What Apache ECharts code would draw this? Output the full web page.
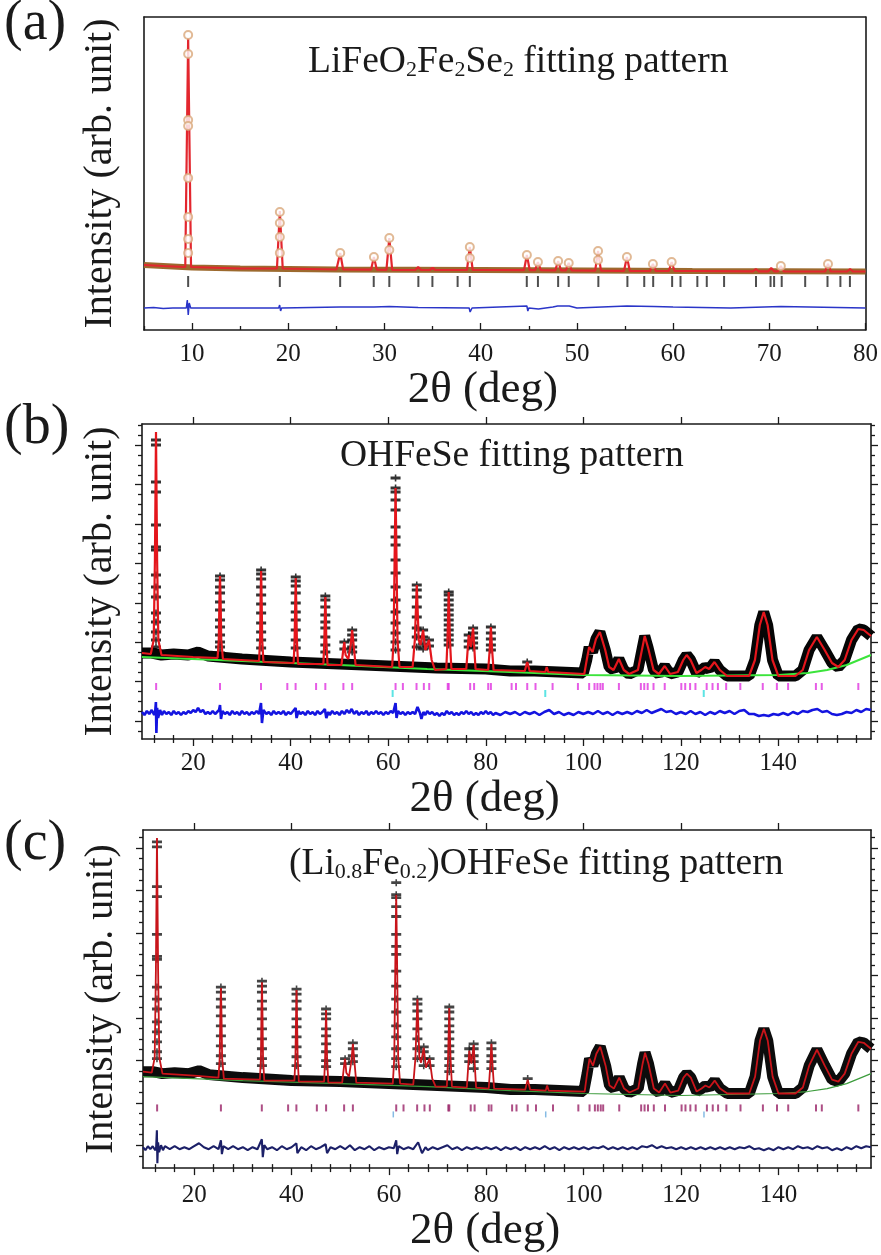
<!DOCTYPE html>
<html>
<head>
<meta charset="utf-8">
<script src="https://cdn.jsdelivr.net/npm/echarts@6/dist/echarts.min.js"></script>
<style>
  html, body { margin: 0; padding: 0; background: #fff; }
  #chart { width: 881px; height: 1255px; }
</style>
</head>
<body>
<div id="chart"></div>
<script>
var FONT = 'Liberation Serif';

// ---------- (a) LiFeO2Fe2Se2 ----------
var bgA = [[5,65],[7,64],[10,62.5],[15,61.5],[25,60.5],[40,60],[62,59],[80,58.5]];
// [2theta, top, base]
var peaksA = [
  [9.59,292,63],[19.12,119,61.5],[25.4,77,60.5],[28.9,73,60.3],[30.5,92,60.2],
  [33.5,63,60],[35.0,62,60],[38.87,83,60],[44.8,75,59.8],[45.95,68,59.8],
  [48.05,69,59.6],[49.15,67,59.6],[52.2,79,59.4],[55.2,73,59.2],[57.9,66,59],
  [59.85,68,59],[68.6,61,58.7],[70.2,62,58.7],[71.2,64,58.6],[76.1,66,58.5],[78.4,61,58.5]
];
var obsA = [
  [9.59,295],[9.59,276],[9.59,210],[9.59,204],[9.59,152],[9.59,113],[9.59,91],[9.59,77],
  [19.12,118],[19.12,107],[19.12,93],[19.12,77],
  [25.4,77],[28.9,73],[30.5,92],[30.5,80],[38.87,83],[38.87,72],[44.8,75],[45.95,68],
  [48.05,69],[49.15,67],[52.2,79],[52.2,70],[55.2,73],[57.9,66],[59.85,68],[71.2,64],[76.1,66]
];
var hklA = [9.59,19.12,25.39,28.88,30.5,33.52,34.98,37.6,38.87,44.79,45.95,48.05,49.15,52.23,
  55.25,57.0,57.93,59.9,60.77,62.52,63.5,65.3,68.62,70.13,70.5,71.29,73.73,76.05,77.39,78.38];
var diffA = [[5,22],[6,22.5],[7,21.5],[8,22],[9.4,22],[9.5,30],[9.6,15],[9.7,27],[9.85,22],
  [19.0,22],[19.1,25],[19.2,19],[19.3,22],[25.4,23],[28.9,23],[30.5,23.5],[33.5,22.5],
  [38.8,22],[38.9,18],[39.0,20],[39.1,22],[44.8,24],[44.9,19],[45.0,22],[46,21],[47.5,23],
  [48,24],[49.2,24],[50,22],[55.2,24],[58,23.5],[60,23],[66,22],[71.2,23.5],[80,22]];

// ---------- (b) OHFeSe ----------
var calcB = [
  [9.5,86],[11.3,85],[11.9,99],[12.15,179],[12.37,307],[12.6,179],[12.85,99],[13.5,84],[20,82],
  [25.0,81],[25.25,99],[25.38,139],[25.5,163],[25.62,139],[25.75,99],[26.1,80],
  [33.5,78],[33.72,99],[33.82,139],[33.93,168],[34.04,139],[34.15,99],[34.4,77],
  [40.6,76],[40.8,99],[40.92,134],[41.03,161],[41.14,134],[41.26,99],[41.5,75],
  [46.7,75],[46.9,99],[47.0,124],[47.1,142],[47.2,124],[47.3,99],[47.55,74],
  [50.4,74],[50.8,90],[51.0,97],[51.25,84],[51.8,80],[52.3,94],[52.6,109],[52.9,94],[53.3,74],
  [60.8,72],[61.1,99],[61.3,179],[61.5,251],[61.7,179],[61.9,99],[62.3,72],
  [65.0,72],[65.45,99],[65.85,154],[66.25,99],[66.6,94],[67.15,109],[67.6,89],[68.35,99],[68.9,79],[69.6,69],
  [71.9,70],[72.15,99],[72.4,147],[72.65,99],[72.95,70],
  [76.0,70],[76.5,104],[76.95,92],[77.4,111],[77.9,70],
  [80.5,69],[80.8,89],[81.05,112],[81.3,89],[81.6,69],
  [88.0,68],[88.5,77],[89.0,68],[92.2,67],[92.5,72],[92.8,67],
  [100.2,65],[100.7,79],[101.2,92],[101.9,87],[102.6,100],[103.4,107],[104.5,89],[105.3,72],
  [106.2,69],[107.3,80],[108.3,69],[109.4,65],[111.2,69],[112.1,91],[112.6,103],[113.3,91],[114.4,69],
  [115.5,65],[116.7,73],[117.8,65],[119.4,67],[120.5,79],[121.2,84],[122.0,79],[123.2,66],
  [124.2,69],[125.0,72],[125.8,70],[126.9,77],[128.0,69],[129.5,63],[134.0,63],
  [135.2,79],[136.2,114],[137.0,127],[137.8,114],[138.8,79],[140.0,63],[143.5,63],
  [145.0,69],[146.3,89],[147.9,102],[149.5,89],[151.0,76],[152.3,72],[153.6,79],[155.0,99],
  [156.4,110],[157.5,109],[159.0,103]
];
var obsLowB = [[9.5,86],[11.5,86],[13.5,84],[16,85],[19,84],[21,87],[23,83],[30,80],[40,77],[50,75],
  [60,73],[70,71],[80,70],[85,68],[90,68],[95,67],[100,66]];
var obsMarksB = [
  [12.37,299],[12.37,294],[12.37,257],[12.37,247],[12.37,214],[12.37,192],[12.37,189],[12.37,164],
  [12.37,152],[12.37,142],[12.37,126],[12.37,117],[12.37,107],[12.37,99],[12.37,92],
  [25.5,163],[25.5,159],[25.5,152],[25.5,146],[25.5,137],[25.5,129],[25.5,119],[25.5,112],[25.5,104],[25.5,97],[25.5,92],[25.5,86],
  [33.93,169],[33.93,165],[33.93,160],[33.93,152],[33.93,144],[33.93,135],[33.93,126],[33.93,116],[33.93,107],[33.93,99],[33.93,91],
  [41.03,162],[41.03,158],[41.03,153],[41.03,146],[41.03,136],[41.03,127],[41.03,119],[41.03,109],[41.03,99],[41.03,91],
  [47.1,143],[47.1,139],[47.1,132],[47.1,124],[47.1,117],[47.1,111],[47.1,102],[47.1,94],[47.1,87],
  [51.0,97],[51.0,90],[52.6,109],[52.6,104],[52.6,99],[52.6,92],[52.6,87],
  [61.5,261],[61.5,251],[61.5,247],[61.5,239],[61.5,229],[61.5,212],[61.5,202],[61.5,194],[61.5,179],
  [61.5,166],[61.5,152],[61.5,139],[61.5,127],[61.5,116],[61.5,106],[61.5,97],[61.5,89],
  [65.85,154],[65.85,149],[65.85,142],[65.85,132],[65.85,122],[65.85,111],[65.85,102],[65.85,92],
  [67.15,109],[67.15,102],[67.15,95],[67.15,90],[68.35,99],[68.35,93],
  [72.4,147],[72.4,144],[72.4,139],[72.4,134],[72.4,129],[72.4,124],[72.4,119],[72.4,114],[72.4,109],[72.4,104],[72.4,99],[72.4,94],
  [76.5,104],[76.5,98],[76.5,92],[77.4,111],[77.4,106],[77.4,101],[77.4,96],[77.4,91],
  [81.05,112],[81.05,106],[81.05,100],[81.05,94],[81.05,89],[88.5,77]
];
var bgB = [[9.5,82],[30,78],[50,74],[68,70],[85,67],[100,64],[120,63],[140,64],[146,66],[150,69],[154,74],[159,84]];
var hklB = [12.4,25.5,33.9,39.3,41.0,45.2,47.1,50.8,52.6,61.5,63.0,65.8,67.3,68.4,72.2,72.4,76.8,77.6,
  80.5,81.05,85.3,86.2,88.5,90.2,93.7,98.9,101.2,102.3,102.9,103.5,104.0,107.3,111.8,112.5,113.2,
  114.4,116.7,120.1,120.9,121.9,123.0,125.3,126.5,127.6,129.3,132.2,136.8,139.7,142.0,147.7,148.9,156.4];
var hkl2B = [60.9,92.2,124.7];
var diffB = [
  [9.5,27],[10,24],[10.5,28],[11,25],[11.5,29],[12,24],[12.2,27],[12.35,37],[12.45,6],[12.6,31],[12.8,21],
  [13.2,29],[13.6,24],[14,28],[14.5,25],[15,27],[15.5,24],[16,28],[16.5,25],[17,27],[17.5,24],[18,27],
  [18.5,25],[19,28],[19.5,26],[20,29],[20.5,27],[21,31],[21.5,27],[22,29],[22.5,25],[23,27],[23.5,25],
  [24,28],[24.5,25],[25.3,29],[25.5,34],[25.7,20],[26,28],[26.5,25],[27,27],[27.5,24],[28,28],[28.5,25],
  [29,27],[29.5,24],[30,28],[30.5,25],[31,27],[31.5,24],[32,27],[32.5,25],[33,28],[33.5,25],[33.9,36],
  [34.1,16],[34.4,29],[35,25],[35.5,27],[36,24],[36.5,28],[37,25],[37.5,27],[38,25],[38.5,28],[39,24],
  [39.5,27],[40,25],[40.5,28],[41,31],[41.2,21],[41.6,28],[42,25],[42.5,27],[43,24],[43.5,28],[44,25],
  [44.5,27],[45,24],[45.5,28],[46,25],[46.5,27],[47,30],[47.3,21],[47.7,27],[48,24],[48.5,28],[49,25],
  [49.5,27],[50,24],[50.5,28],[51,25],[51.5,29],[52,26],[52.5,30],[53,25],[53.5,28],[54,24],[54.5,27],
  [55,25],[55.5,28],[56,24],[56.5,27],[57,25],[57.5,28],[58,25],[58.5,27],[59,24],[59.5,27],[60,25],
  [60.5,28],[61,26],[61.5,36],[61.7,21],[62,28],[62.5,25],[63,27],[63.5,24],[64,27],[64.5,25],[65,27],
  [65.5,25],[66,32],[66.5,26],[66.8,20],[67.2,27],[67.6,24],[68,28],[68.5,25],[69,27],[69.5,24],[70,26],
  [70.5,23],[71,26],[71.5,24],[72,28],[72.5,25],[73,27],[73.5,24],[74,26],[74.5,24],[75,27],[75.5,25],
  [76,28],[76.5,25],[77,27],[77.5,24],[78,26],[78.5,24],[79,27],[79.5,25],[80,28],[80.5,25],[81,27],
  [81.5,24],[82,26],[83,24],[84,27],[85,25],[86,27],[87,24],[88,27],[89,25],[90,27],[91,24],[92,27],
  [93,29],[94,25],[95,27],[96,24],[97,26],[98,24],[99,27],[100,25],[101,27],[102,25],[103,28],[104,25],
  [105,27],[106,24],[107,27],[108,25],[109,27],[110,25],[111,28],[112,26],[113,29],[114,26],[115,28],
  [116,30],[117,27],[118,28],[119,25],[120,27],[121,25],[122,28],[123,25],[124,27],[125,24],[126,27],
  [127,25],[128,28],[129,26],[130,28],[131,25],[132,28],[133,29],[134,25],[135,25],[136,23],[137,24],
  [138,23],[139,25],[140,24],[141,26],[142,24],[143,27],[144,25],[145,28],[146,27],[147,29],[148,30],
  [149,27],[150,28],[151,25],[152,24],[153,25],[154,27],[155,26],[156,29],[157,27],[158,30],[159,29]];

// ---------- (c) (Li0.8Fe0.2)OHFeSe ----------
var calcC = [
  [9.5,97],[11.3,96],[11.9,111],[12.15,200],[12.37,332],[12.6,200],[12.85,111],[13.5,95],[20,93],
  [25.0,91],[25.25,111],[25.38,155],[25.5,181],[25.62,155],[25.75,111],[26.1,90],
  [33.5,89],[33.72,111],[33.82,155],[33.93,187],[34.04,155],[34.15,111],[34.4,88],
  [40.6,88],[40.8,111],[40.92,150],[41.03,179],[41.14,150],[41.26,111],[41.5,87],
  [46.7,87],[46.9,111],[47.0,138],[47.1,159],[47.2,138],[47.3,111],[47.55,86],
  [50.4,86],[50.8,103],[51.0,110],[51.25,96],[51.8,92],[52.3,108],[52.6,125],[52.9,108],[53.3,86],
  [60.8,85],[61.1,111],[61.3,200],[61.5,275],[61.7,200],[61.9,111],[62.3,85],
  [65.0,84],[65.45,111],[65.85,170],[66.25,111],[66.6,106],[67.15,121],[67.6,101],[68.35,110],[68.9,90],[69.6,82],
  [71.9,82],[72.15,111],[72.4,161],[72.65,111],[72.95,82],
  [76.0,81],[76.5,118],[76.95,105],[77.4,124],[77.9,81],
  [80.5,80],[80.8,102],[81.05,125],[81.3,102],[81.6,80],
  [88.0,79],[88.5,89],[89.0,79],[92.2,78],[92.5,83],[92.8,78],
  [100.2,77],[100.7,95],[101.2,110],[101.9,103],[102.6,115],[103.4,122],[104.5,103],[105.3,83],
  [106.2,80],[107.3,91],[108.3,80],[109.4,76],[111.2,80],[112.1,105],[112.6,116],[113.3,105],[114.4,80],
  [115.5,76],[116.7,85],[117.8,76],[119.4,78],[120.5,91],[121.2,95],[122.0,91],[123.2,77],
  [124.2,80],[125.0,83],[125.8,81],[126.9,88],[128.0,80],[129.5,75],[134.0,75],
  [135.2,92],[136.2,128],[137.0,140],[137.8,128],[138.8,92],[140.0,75],[143.5,75],
  [145.0,81],[146.3,103],[147.9,119],[149.5,103],[151.0,89],[152.3,87],[153.6,95],[155.0,115],
  [156.4,127],[157.5,126],[159.0,120]
];
var obsLowC = [[9.5,97],[11.5,97],[13.5,95],[16,96],[19,95],[21,98],[23,94],[30,91],[40,88],[50,87],
  [60,85],[70,83],[80,81],[85,79],[90,79],[95,78],[100,77]];
var obsMarksC = [
  [12.37,328],[12.37,323],[12.37,283],[12.37,273],[12.37,235],[12.37,213],[12.37,210],[12.37,182],
  [12.37,170],[12.37,160],[12.37,147],[12.37,137],[12.37,127],[12.37,117],[12.37,110],
  [25.5,182],[25.5,177],[25.5,170],[25.5,162],[25.5,153],[25.5,143],[25.5,133],[25.5,123],[25.5,113],[25.5,105],
  [33.93,188],[33.93,183],[33.93,177],[33.93,168],[33.93,160],[33.93,150],[33.93,140],[33.93,130],[33.93,120],[33.93,110],[33.93,103],
  [41.03,180],[41.03,175],[41.03,168],[41.03,160],[41.03,150],[41.03,142],[41.03,132],[41.03,122],[41.03,112],[41.03,103],
  [47.1,160],[47.1,155],[47.1,150],[47.1,140],[47.1,133],[47.1,125],[47.1,117],[47.1,108],[47.1,102],
  [51.0,110],[51.0,105],[52.6,126],[52.6,120],[52.6,113],[52.6,107],
  [61.5,287],[61.5,275],[61.5,272],[61.5,263],[61.5,253],[61.5,235],[61.5,223],[61.5,215],[61.5,198],
  [61.5,183],[61.5,170],[61.5,157],[61.5,143],[61.5,132],[61.5,120],[61.5,110],[61.5,102],
  [65.85,170],[65.85,165],[65.85,158],[65.85,150],[65.85,140],[65.85,130],[65.85,120],[65.85,110],
  [67.15,122],[67.15,117],[67.15,110],[67.15,103],[68.35,110],[68.35,103],
  [72.4,162],[72.4,157],[72.4,150],[72.4,143],[72.4,137],[72.4,130],[72.4,123],[72.4,117],[72.4,110],[72.4,103],[72.4,97],
  [76.5,120],[76.5,113],[76.5,107],[77.4,125],[77.4,120],[77.4,113],[77.4,107],[77.4,100],
  [81.05,126],[81.05,120],[81.05,113],[81.05,107],[81.05,100],[88.5,90]
];
var bgC = [[9.5,92],[30,88],[50,85],[68,82],[85,78],[100,75],[120,73],[140,75],[146,77],[150,80],[154,85],[159,95]];
var hklC = hklB;          // same OHFeSe reflections
var hkl2C = hkl2B;
var diffC = [
  [9.5,21],[10,18],[10.5,22],[11,19],[11.5,22],[12,18],[12.2,21],[12.35,38],[12.45,5],[12.6,26],[12.8,16],
  [13.2,23],[13.6,18],[14,22],[15,19],[16,22],[17,19],[18,21],[19,19],[20,22],[21,25],[22,21],[23,19],
  [24,22],[25,19],[25.5,28],[25.7,14],[26,22],[27,19],[28,22],[29,19],[30,21],[31,18],[32,21],[33,19],
  [33.9,29],[34.1,11],[34.4,23],[35,19],[36,21],[37,18],[38,22],[39,19],[40,21],[41,25],[41.2,15],[42,21],
  [43,18],[44,22],[45,19],[46,21],[47,24],[47.3,15],[48,21],[49,19],[50,22],[51,19],[52,23],[53,18],
  [54,21],[55,19],[56,22],[57,18],[58,21],[59,19],[60,21],[61,20],[61.5,28],[61.7,14],[62,22],[63,19],
  [64,21],[65,19],[66,26],[66.8,15],[67.5,21],[68,18],[69,21],[70,19],[71,21],[72,23],[73,19],[74,21],
  [75,18],[76,21],[77,19],[78,21],[79,19],[80,21],[81,19],[82,21],[83,18],[84,21],[85,19],[86,21],
  [87,18],[88,21],[89,19],[90,21],[91,19],[92,22],[93,19],[94,21],[95,18],[96,21],[97,19],[98,21],
  [99,19],[100,21],[101,19],[102,21],[103,20],[104,22],[105,19],[106,21],[107,19],[108,21],[109,19],
  [110,21],[111,19],[112,22],[113,21],[114,23],[115,20],[116,22],[117,20],[118,21],[119,19],[120,21],
  [121,19],[122,21],[123,19],[124,21],[125,19],[126,21],[127,19],[128,21],[129,19],[130,21],[131,19],
  [132,21],[133,20],[134,22],[135,19],[136,20],[137,18],[138,20],[139,18],[140,21],[141,19],[142,21],
  [143,19],[144,22],[145,20],[146,21],[147,19],[148,22],[149,20],[150,21],[151,18],[152,20],[153,18],
  [154,21],[155,19],[156,22],[157,20],[158,22],[159,21]];

// ---------- helpers ----------
function ticks(start, step, max) {
  var out = [];
  for (var v = start; v <= max + 1e-6; v += step) out.push(+v.toFixed(3));
  return out;
}
function without(list, skip) {
  return list.filter(function (v) {
    return !skip.some(function (s) { return Math.abs(s - v) < 1e-3; });
  });
}
function peakProfile(bg, peaks, hw) {
  var pts = bg.slice();
  peaks.forEach(function (p) {
    pts.push([p[0] - hw, p[2]], [p[0], p[1]], [p[0] + hw, p[2]]);
  });
  return pts.sort(function (a, b) { return a[0] - b[0]; });
}
function at(list, y) { return list.map(function (x) { return [x, y]; }); }
function from(list, x0) { return list.filter(function (p) { return p[0] >= x0; }); }

var AXC = '#1a1a1a';
var option = {
  animation: false,
  backgroundColor: '#ffffff',
  textStyle: { fontFamily: FONT, color: AXC },
  title: [], grid: [], xAxis: [], yAxis: [], series: []
};

// serif text pieces (rich text keeps the family on axis texts)
var RICH = {
  t: { fontFamily: FONT, fontSize: 25, color: AXC },
  xn: { fontFamily: FONT, fontSize: 45, color: AXC },
  yn: { fontFamily: FONT, fontSize: 40, color: AXC }
};

function addPanel(p) {
  var g = option.grid.length;
  option.grid.push({ left: p.left, top: p.top, width: p.width, height: p.height });
  var xi = option.xAxis.length, yi = option.yAxis.length;
  var line = { show: true, onZero: false, lineStyle: { color: AXC, width: 1.6 } };
  var tl = { color: AXC, width: 1.3 };
  function xa(pos, showLine, vals, len, extra) {
    var a = {
      gridIndex: g, type: 'value', position: pos, min: p.xMin, max: p.xMax,
      axisLine: showLine ? line : { show: false }, splitLine: { show: false },
      axisTick: vals ? { show: true, inside: p.inside, length: len, customValues: vals, lineStyle: tl } : { show: false },
      axisLabel: { show: false }
    };
    for (var k in extra) a[k] = extra[k];
    option.xAxis.push(a);
  }
  function ya(pos, showLine, vals, len, extra) {
    var a = {
      gridIndex: g, type: 'value', position: pos, min: 0, max: p.yMax,
      axisLine: showLine ? line : { show: false }, splitLine: { show: false },
      axisTick: vals ? { show: true, inside: p.inside, length: len, customValues: vals, lineStyle: tl } : { show: false },
      axisLabel: { show: false }
    };
    for (var k in extra) a[k] = extra[k];
    option.yAxis.push(a);
  }
  xa('bottom', true, p.xMajor, 7, {
    axisLabel: { show: true, customValues: p.xMajor, margin: p.labelMargin,
      formatter: '{t|{value}}', fontFamily: FONT, fontSize: 25, color: AXC, rich: RICH },
    name: '{xn|2θ (deg)}', nameLocation: 'middle', nameGap: p.xNameGap,
    nameTextStyle: { fontFamily: FONT, fontSize: 45, color: AXC, padding: [0, 44, 0, 0], rich: RICH }
  });
  xa('bottom', false, p.xMinor, 4, {});
  xa('top', true, p.topTicks ? p.xMajor : null, 7, {});
  if (p.topTicks) xa('top', false, p.xMinor, 4, {});
  ya('left', true, p.yMajor, 7, {
    name: '{yn|Intensity (arb. unit)}', nameLocation: 'middle', nameGap: p.yNameGap,
    nameTextStyle: { fontFamily: FONT, fontSize: 40, color: AXC, rich: RICH }
  });
  if (p.yMinor) ya('left', false, p.yMinor, 4, {});
  ya('right', true, p.yMajor, 7, {});
  if (p.yMinor) ya('right', false, p.yMinor, 4, {});
  p.series.forEach(function (s) {
    s.xAxisIndex = xi; s.yAxisIndex = yi;
    s.silent = true;
    option.series.push(s);
  });
}

function lineS(data, color, width, z) {
  return { type: 'line', data: data, showSymbol: false, symbol: 'none', z: z,
    lineStyle: { color: color, width: width }, itemStyle: { color: color } };
}
function markS(data, symbol, size, color, z, extra) {
  var s = { type: 'scatter', data: data, symbol: symbol, symbolSize: size, z: z,
    itemStyle: { color: color } };
  for (var k in extra) s[k] = extra[k];
  return s;
}
// observed-point marker of the refinement plot: a wide '+'
var PLUS = 'path://M0,3L10,3L10,7L0,7Z M4.2,0L5.8,0L5.8,10L4.2,10Z';

// panel (a)
addPanel({
  left: 144, top: 17, width: 726, height: 313,
  xMin: 5, xMax: 80, yMax: 313, inside: true, topTicks: false,
  xMajor: ticks(10, 10, 80), xMinor: ticks(5, 10, 75),
  labelMargin: 12, xNameGap: 34, yNameGap: 24,
  series: [
    lineS(bgA, '#9c6a2e', 6, 1),
    lineS(peakProfile(bgA, peaksA, 0.3), '#e3262e', 2.2, 3),
    markS(obsA, 'emptyCircle', 8, '#d9a77a', 4, { itemStyle: { color: '#d9a77a', borderColor: '#d9a77a', borderWidth: 1.2 } }),
    markS(at(hklA, 48.5), 'rect', [2, 11], '#222', 3),
    lineS(diffA, '#2a35c8', 1.5, 3)
  ]
});

// panel (b)
var yAllB = ticks(8.15, 9.85, 315), yMajB = ticks(18, 39.4, 315);
addPanel({
  left: 142, top: 424, width: 729, height: 315,
  xMin: 9.5, xMax: 159, yMax: 315, inside: false, topTicks: true,
  xMajor: ticks(20, 20, 140), xMinor: without(ticks(12, 4, 156), ticks(20, 20, 140)),
  yMajor: yMajB, yMinor: without(yAllB, yMajB),
  labelMargin: 12, xNameGap: 36, yNameGap: 22,
  series: [
    lineS(obsLowB.concat(from(calcB, 100.2)), '#050505', 11, 1),
    markS(obsMarksB, PLUS, [10, 7], '#000000', 2),
    lineS(bgB, '#3be43b', 2, 3),
    lineS(calcB, '#e4161c', 2.2, 4),
    markS(at(hklB, 52.5), 'rect', [2, 7], '#e033e0', 3),
    markS(at(hkl2B, 45.5), 'rect', [2, 7], '#33dddd', 3),
    lineS(diffB, '#1414e0', 2.6, 3)
  ]
});

// panel (c)
var yAllC = ticks(12.325, 10.675, 340), yMajC = ticks(23, 42.7, 340);
addPanel({
  left: 143, top: 830, width: 728, height: 340,
  xMin: 9.5, xMax: 159, yMax: 340, inside: false, topTicks: true,
  xMajor: ticks(20, 20, 140), xMinor: without(ticks(12, 4, 156), ticks(20, 20, 140)),
  yMajor: yMajC, yMinor: without(yAllC, yMajC),
  labelMargin: 15, xNameGap: 38, yNameGap: 22,
  series: [
    lineS(obsLowC.concat(from(calcC, 100.2)), '#0c0c0c', 11, 1),
    markS(obsMarksC, PLUS, [10, 7], '#161616', 2),
    lineS(bgC, '#3c9c3c', 1.2, 3),
    lineS(calcC, '#c8141a', 1.8, 4),
    markS(at(hklC, 60.5), 'rect', [2, 7], '#992266', 3),
    markS(at(hkl2C, 54), 'rect', [1.5, 6], '#66aadd', 3),
    lineS(diffC, '#1c2068', 2.1, 3)
  ]
});

// panel letters and inner titles
var letter = { fontFamily: FONT, fontSize: 56, fontWeight: 'normal', color: AXC };
option.title.push(
  { text: '(a)', left: 4, top: -4, padding: 0, textStyle: letter },
  { text: '(b)', left: 4, top: 400, padding: 0, textStyle: letter },
  { text: '(c)', left: 4, top: 816, padding: 0, textStyle: letter }
);
var richT = {
  m: { fontFamily: FONT, fontSize: 37.5, fontWeight: 'normal', color: AXC },
  s: { fontFamily: FONT, fontSize: 22, fontWeight: 'normal', color: AXC, verticalAlign: 'bottom' }
};
option.title.push(
  { text: '{m|LiFeO}{s|2}{m|Fe}{s|2}{m|Se}{s|2}{m| fitting pattern}', left: 308, top: 43, padding: 0,
    textStyle: { fontWeight: 'normal', rich: richT } },
  { text: 'OHFeSe fitting pattern', left: 340, top: 437, padding: 0,
    textStyle: { fontFamily: FONT, fontSize: 37.5, fontWeight: 'normal', color: AXC } },
  { text: '{m|(Li}{s|0.8}{m|Fe}{s|0.2}{m|)OHFeSe fitting pattern}', left: 289, top: 845, padding: 0,
    textStyle: { fontWeight: 'normal', rich: richT } }
);

var chart = echarts.init(document.getElementById('chart'), null, { renderer: 'canvas' });
chart.setOption(option);
</script>
</body>
</html>
